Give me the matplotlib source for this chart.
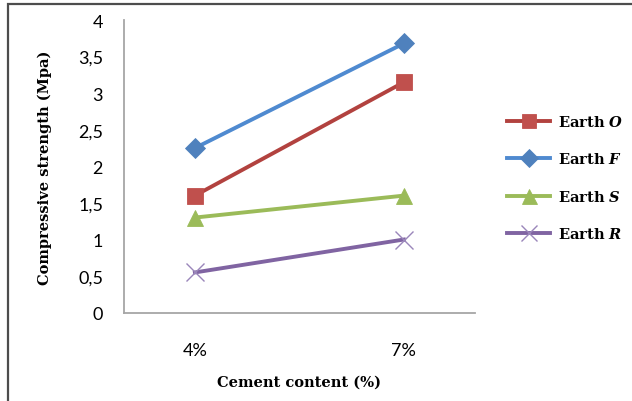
import matplotlib
matplotlib.use("Agg")
import matplotlib.pyplot as plt
from matplotlib.patches import Rectangle

# compressive strength (MPa) for each earth type at two cement contents
cement = ["4%", "7%"]
earth_o = [1.6, 3.15]
earth_f = [2.25, 3.68]
earth_s = [1.3, 1.6]
earth_r = [0.55, 1.0]
yticks = [0, 0.5, 1, 1.5, 2, 2.5, 3, 3.5, 4]
ytick_labels = ["0", "0,5", "1", "1,5", "2", "2,5", "3", "3,5", "4"]

plt.rcParams["mathtext.fontset"] = "custom"
plt.rcParams["mathtext.rm"] = "DejaVu Serif"
plt.rcParams["mathtext.bf"] = "DejaVu Serif:bold"
plt.rcParams["mathtext.it"] = "DejaVu Serif:italic"
plt.rcParams["mathtext.bfit"] = "DejaVu Serif:bold:italic"

fig = plt.figure(figsize=(6.32, 4.02), dpi=100)
ax = fig.add_axes([0.196, 0.2197, 0.5554, 0.728])

# outer chart border (runs off the right and bottom edges)
fig.patches.append(Rectangle((8 / 632, -0.1), 1.2, 1 - 5 / 402 + 0.1,
                             transform=fig.transFigure, fill=False,
                             edgecolor="#4d4d4d", linewidth=1.6))

x = list(range(len(cement)))
series = [
  (earth_o, r"Earth $\mathbfit{O}$", "#B2423F", "#C0504D", "s", 11.5, 0.6),
  (earth_f, r"Earth $\mathbfit{F}$", "#4F8AD0", "#4F81BD", "D", 10, 0.6),
  (earth_s, r"Earth $\mathbfit{S}$", "#9BBB59", "#9BBB59", "^", 12, 0.6),
  (earth_r, r"Earth $\mathbfit{R}$", "#8064A2", "#9A86BA", "x", 13, 1.0),
]
for vals, label, lcolor, mcolor, marker, ms, mew in series:
  ax.plot(x, vals, color=lcolor, linewidth=2.8, marker=marker,
          markersize=ms, markeredgewidth=mew, markerfacecolor=mcolor,
          markeredgecolor=mcolor, label=label)

ax.set_xlim(-0.34, 1.34)
ax.set_ylim(0, 4)
ax.set_xticks(x)
ax.set_xticklabels(cement, fontfamily="Lato", fontsize=13)
ax.set_yticks(yticks)
ax.set_yticklabels(ytick_labels, fontfamily="Lato", fontsize=13)
ax.tick_params(axis="both", length=0)
ax.tick_params(axis="x", pad=21)
ax.tick_params(axis="y", pad=15)

for side in ["top", "right"]:
  ax.spines[side].set_visible(False)
for side in ["left", "bottom"]:
  ax.spines[side].set_color("#A6A6A6")
  ax.spines[side].set_linewidth(1.3)

ax.set_xlabel("Cement content (%)", fontfamily="DejaVu Serif",
              fontweight="bold", fontsize=10.5, labelpad=12)
ax.set_ylabel("Compressive strength (Mpa)", fontfamily="DejaVu Serif",
              fontweight="bold", fontsize=10.5, labelpad=19)

ax.legend(loc="upper left", bbox_to_anchor=(1.074, 0.7), frameon=False,
          prop={"family": "DejaVu Serif", "weight": "bold", "size": 10.5},
          handlelength=3.0, labelspacing=1.55, handletextpad=0.5,
          borderaxespad=0, markerscale=0.9)

fig.savefig("out.png", dpi=100)
